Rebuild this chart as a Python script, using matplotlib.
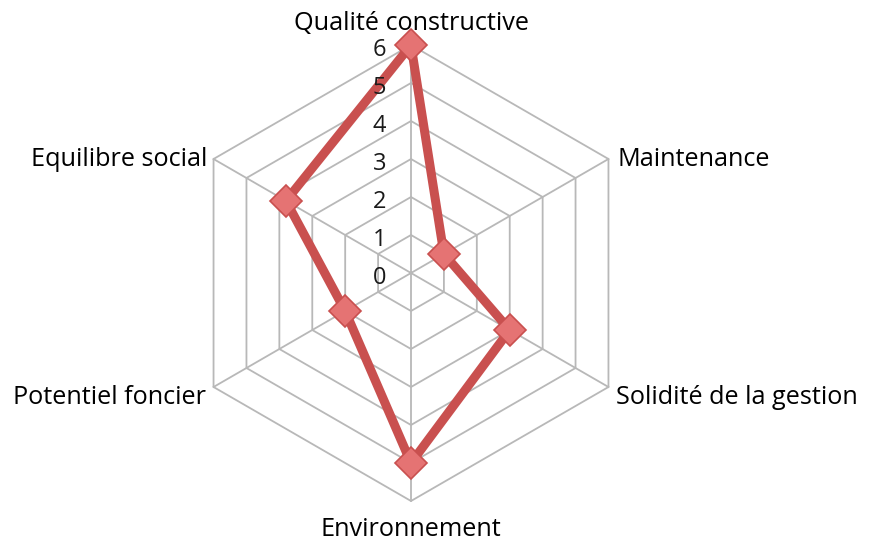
import numpy as np
import matplotlib
matplotlib.use("Agg")
import matplotlib.pyplot as plt
import matplotlib.transforms as mtransforms

categories = ["Qualité constructive", "Maintenance", "Solidité de la gestion",
              "Environnement", "Potentiel foncier", "Equilibre social"]
values = [6, 1, 3, 5, 2, 3.8]
levels = [0, 1, 2, 3, 4, 5, 6]
level_labels = ["0", "1", "2", "3", "4", "5", "6"]

plt.rcParams['font.family'] = ['Open Sans', 'DejaVu Sans']

fig = plt.figure(figsize=(8.71, 5.47), dpi=100)
cx, cy = 411 / 871, (547 - 273) / 547
rw, rh = 228 / 871, 228 / 547
ax = fig.add_axes([cx - rw, cy - rh, 2 * rw, 2 * rh], projection='polar')
ax.set_theta_offset(np.pi / 2)
ax.set_theta_direction(-1)
ax.set_ylim(0, 6)
ax.axis('off')

n = len(categories)
angles = np.arange(n) * 2 * np.pi / n
closed = np.append(angles, angles[0])

grid_col = '#b8b8b8'
for lv in levels[1:]:
    ax.plot(closed, [lv] * (n + 1), color=grid_col, lw=1.3, zorder=1, clip_on=False)
for a in angles:
    ax.plot([a, a], [0, levels[-1]], color=grid_col, lw=1.3, zorder=1, clip_on=False)

vals = np.append(values, values[0])
ax.plot(closed, vals, color='#c9504f', lw=6.5, zorder=3, solid_joinstyle='miter', clip_on=False)
ax.plot(angles, values, linestyle='none', marker='D', markersize=16,
        markerfacecolor='#e57373', markeredgecolor='#c9504f', markeredgewidth=1.2,
        zorder=4, clip_on=False)

fs_tick = 17
off = mtransforms.ScaledTranslation(-0.25, -0.05, fig.dpi_scale_trans)
for lv, lab in zip(levels, level_labels):
    ax.text(0, lv, lab, transform=ax.transData + off, fontsize=fs_tick, color='#1a1a1a',
            ha='right', va='center', zorder=5)

fs = 18.2
fig.text(411 / 871, 1 - 23 / 547, categories[0], ha='center', va='center', fontsize=fs)
fig.text(617 / 871, 1 - 160 / 547, categories[1], ha='left', va='center', fontsize=fs)
fig.text(616 / 871, 1 - 398 / 547, categories[2], ha='left', va='center', fontsize=fs)
fig.text(411 / 871, 1 - 530 / 547, categories[3], ha='center', va='center', fontsize=fs)
fig.text(206 / 871, 1 - 398 / 547, categories[4], ha='right', va='center', fontsize=fs)
fig.text(207 / 871, 1 - 160 / 547, categories[5], ha='right', va='center', fontsize=fs)

fig.savefig('out.png', dpi=100)
